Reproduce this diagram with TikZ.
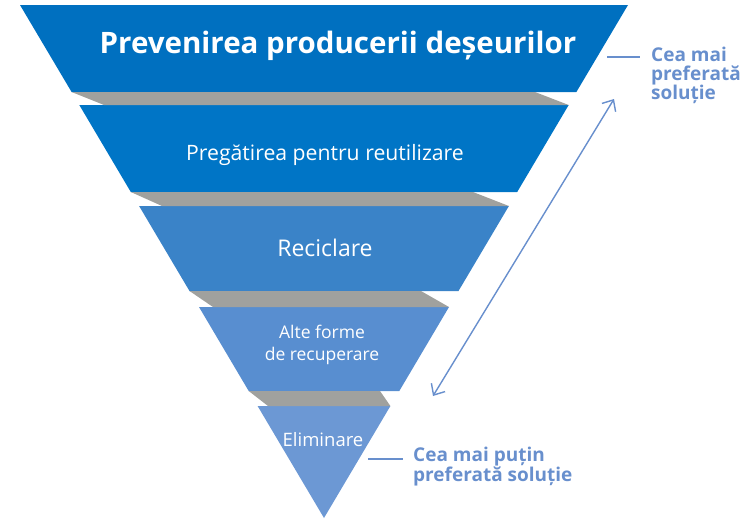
\documentclass[tikz,border=0pt]{standalone}
\usepackage{fontspec}
\setmainfont{Open Sans}
\usetikzlibrary{arrows.meta}
\definecolor{bandA}{RGB}{0,112,192}
\definecolor{bandB}{RGB}{0,117,198}
\definecolor{bandC}{RGB}{58,131,200}
\definecolor{bandD}{RGB}{88,142,208}
\definecolor{bandE}{RGB}{108,152,212}
\definecolor{shadowgray}{RGB}{160,161,158}
\definecolor{labblue}{RGB}{104,143,205}
\begin{document}
\begin{tikzpicture}[x=1pt,y=-1pt,
  band/.style={draw=none},
  shadow/.style={fill=shadowgray,draw=none},
  bandtext/.style={text=white,align=center,inner sep=0pt},
  lab/.style={text=labblue,font=\bfseries\fontsize{19}{19}\selectfont,align=left,inner sep=0pt,anchor=west},
  tick/.style={draw=labblue,line width=1.8pt},
  dbl/.style={draw=labblue,line width=1.4pt,{Straight Barb[length=9pt,width=16pt]}-{Straight Barb[length=9pt,width=16pt]}}]
\useasboundingbox (0,0) rectangle (750,525);
% bands
\fill[bandA] (20,5) -- (628,5) -- (576.4,92) -- (71.6,92) -- cycle;
\fill[bandB] (79.3,105) -- (568.7,105) -- (517.2,192) -- (130.8,192) -- cycle;
\fill[bandC] (139.1,206) -- (508.9,206) -- (458.5,291) -- (189.5,291) -- cycle;
\fill[bandD] (199,307) -- (449,307) -- (399.3,391) -- (248.7,391) -- cycle;
\fill[bandE] (257.6,406) -- (390.4,406) -- (324,518) -- cycle;
% gray shadows
\fill[shadow] (71.6,92) -- (535,92) -- (568.7,105) -- (104,105) -- cycle;
\fill[shadow] (130.8,192) -- (473,192) -- (508.9,206) -- (162,206) -- cycle;
\fill[shadow] (189.5,291) -- (421,291) -- (449,307) -- (213,307) -- cycle;
\fill[shadow] (248.7,391) -- (380,391) -- (390.4,406) -- (268,406) -- cycle;
% texts
\node[bandtext,font=\bfseries\fontsize{29.5}{34}\selectfont] (t1) at (338,46) {Prevenirea producerii deșeurilor};
\node[bandtext,font=\fontsize{21.2}{26}\selectfont] (t2) at (325,155) {Pregătirea pentru reutilizare};
\node[bandtext,font=\fontsize{23}{26}\selectfont] (t3) at (325,248) {Reciclare};
\node[bandtext,font=\fontsize{17.5}{22}\selectfont] (t4) at (322,345) {Alte forme\\de recuperare};
\node[bandtext,font=\fontsize{18.5}{22}\selectfont] (t5) at (323,440) {Eliminare};
% labels
\node[lab] (l1) at (651,75) {Cea mai\\preferată\\soluție};
\node[lab,font=\bfseries\fontsize{19}{20}\selectfont] (l2) at (413,467) {Cea mai puțin\\preferată soluție};
\coordinate (k1a) at (607,57);
\coordinate (k1b) at (640,57);
\coordinate (k2a) at (368,459);
\coordinate (k2b) at (403,459);
\draw[tick] (k1a) -- (k1b);
\draw[tick] (k2a) -- (k2b);
% double arrow
\coordinate (ab) at (433,396);
\coordinate (at) at (614,99);
\draw[dbl] (ab) -- (at);
\end{tikzpicture}
\end{document}
